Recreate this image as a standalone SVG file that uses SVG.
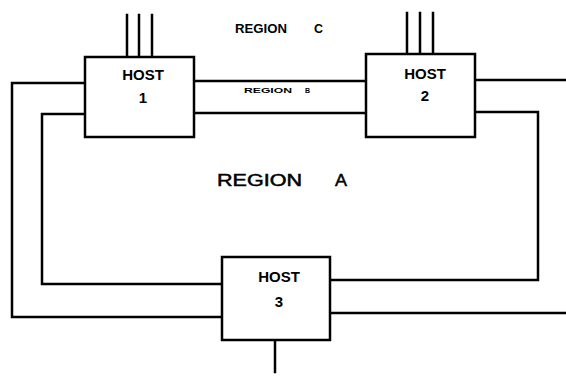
<svg xmlns="http://www.w3.org/2000/svg" width="566" height="378" viewBox="0 0 566 378">
<style>
.ln{fill:none;stroke:#000;stroke-width:2.5;stroke-linejoin:miter;stroke-linecap:square}
.box{fill:#fff;stroke:#000;stroke-width:2.5}
.h{font-family:"Liberation Sans",Arial,sans-serif;font-weight:bold;font-size:15px;text-anchor:middle;fill:#000}
.r{font-family:"Liberation Sans",Arial,sans-serif;fill:#000}
</style>
<rect width="566" height="378" fill="#fff"/>
<g id="connectors">
<path class="ln" d="M127,15 V57 M139,15 V57 M152,15 V57"/>
<path class="ln" d="M407,13 V54 M420,13 V54 M433,13 V54"/>
<path class="ln" d="M85,83 H12 V317 H222"/>
<path class="ln" d="M85,114 H42 V284 H222"/>
<path class="ln" d="M194,81 H366 M194,113 H366"/>
<path class="ln" d="M475,80 H566"/>
<path class="ln" d="M475,112 H538 V280 H330"/>
<path class="ln" d="M330,313 H566"/>
<path class="ln" d="M275,340 V372"/>
</g>
<g id="host1">
<rect class="box" x="85" y="57" width="109" height="80"/>
<text class="h" x="143" y="80">HOST</text>
<text class="h" x="143" y="103">1</text>
</g>
<g id="host2">
<rect class="box" x="366" y="54" width="109" height="83"/>
<text class="h" x="425" y="79">HOST</text>
<text class="h" x="425" y="101">2</text>
</g>
<g id="host3">
<rect class="box" x="222" y="257" width="108" height="83"/>
<text class="h" x="279" y="282">HOST</text>
<text class="h" x="279" y="307">3</text>
</g>
<g id="labels">
<text class="r" font-weight="bold" font-size="12.5" y="33"><tspan x="235" textLength="52" lengthAdjust="spacingAndGlyphs">REGION</tspan><tspan x="314">C</tspan></text>
<text class="r" font-weight="bold" font-size="7" y="93"><tspan x="244" textLength="48" lengthAdjust="spacingAndGlyphs">REGION</tspan><tspan x="305">B</tspan></text>
<text class="r" font-size="16.5" y="186" stroke="#000" stroke-width="0.5"><tspan x="217" textLength="85" lengthAdjust="spacingAndGlyphs">REGION</tspan><tspan x="335" textLength="12" lengthAdjust="spacingAndGlyphs">A</tspan></text>
</g>
</svg>
